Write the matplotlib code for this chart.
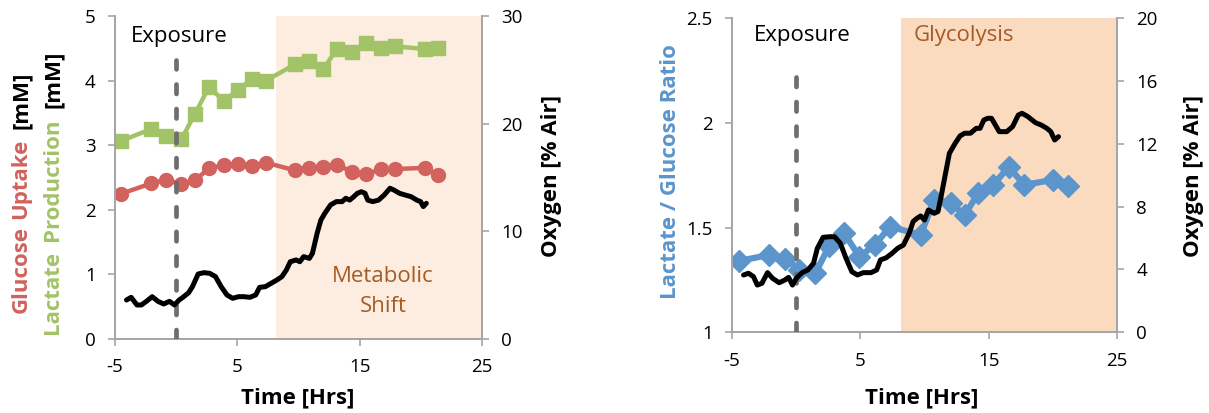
import matplotlib
matplotlib.use("Agg")
import matplotlib.pyplot as plt

# ---------------- data ----------------
time_left = [-4.47, -2.02, -0.83, 0.42, 1.55, 2.68, 3.87, 5.06, 6.19, 7.35,
             9.70, 10.83, 12.02, 13.15, 14.34, 15.53, 16.72, 17.88, 20.30, 21.43]
lactate = [3.07, 3.25, 3.14, 3.09, 3.49, 3.90, 3.69, 3.85, 4.03, 4.00,
           4.25, 4.30, 4.18, 4.49, 4.45, 4.58, 4.51, 4.53, 4.49, 4.51]
glucose = [2.25, 2.41, 2.46, 2.40, 2.46, 2.64, 2.69, 2.71, 2.68, 2.73,
           2.61, 2.64, 2.67, 2.70, 2.59, 2.55, 2.63, 2.63, 2.65, 2.54]

oxy_time_left = [-4.06, -3.68, -3.21, -2.84, -2.43, -1.96, -1.49, -1.02, -0.55, -0.14,
                 0.24, 0.55, 1.02, 1.33, 1.80, 2.27, 2.74, 3.21, 3.68, 4.15,
                 4.62, 5.09, 5.56, 6.03, 6.50, 6.82, 7.29, 7.76, 8.23, 8.64,
                 9.01, 9.33, 9.80, 10.11, 10.42, 10.89, 11.14, 11.52, 11.83, 12.15,
                 12.62, 13.09, 13.56, 13.87, 14.18, 14.50, 14.81, 15.13, 15.44, 15.66,
                 16.07, 16.54, 17.00, 17.48, 17.79, 18.26, 18.73, 19.20, 19.67, 19.98,
                 20.20, 20.45]
oxy_left = [3.62, 3.87, 3.16, 3.16, 3.50, 3.93, 3.50, 3.25, 3.50, 3.16,
            3.62, 3.87, 4.30, 4.86, 6.04, 6.16, 6.10, 5.80, 4.86, 4.09,
            3.78, 3.93, 3.93, 3.87, 4.09, 4.80, 4.86, 5.17, 5.48, 5.79,
            6.41, 7.18, 7.34, 7.18, 7.65, 7.49, 7.96, 9.81, 11.05, 11.67,
            12.45, 12.76, 12.76, 13.07, 12.90, 13.20, 13.53, 13.68, 13.53, 12.90,
            12.76, 12.90, 13.37, 14.00, 13.84, 13.53, 13.37, 13.22, 12.90, 12.76,
            12.30, 12.60]

time_right = [-4.46, -2.14, -0.88, 0.22, 1.50, 2.55, 3.74, 4.93, 6.12, 7.32,
              9.70, 10.75, 12.09, 13.13, 14.18, 15.37, 16.56, 17.76, 19.99, 21.19]
ratio = [1.341, 1.369, 1.349, 1.300, 1.282, 1.410, 1.473, 1.361, 1.417, 1.505,
         1.465, 1.632, 1.616, 1.560, 1.664, 1.704, 1.791, 1.704, 1.728, 1.699]

oxy_time_right = [-4.10, -3.72, -3.33, -3.03, -2.67, -2.23, -1.84, -1.33, -0.88, -0.59,
                  -0.29, 0.01, 0.46, 0.91, 1.35, 1.65, 2.10, 2.69, 2.99, 3.44,
                  3.89, 4.34, 4.78, 5.23, 5.83, 6.27, 6.57, 7.02, 7.47, 7.91,
                  8.36, 8.81, 9.11, 9.41, 9.70, 10.00, 10.30, 10.75, 11.05, 11.34,
                  11.64, 11.94, 12.39, 12.77, 13.13, 13.58, 14.03, 14.33, 14.62, 14.92,
                  15.22, 15.52, 15.82, 16.41, 16.86, 17.31, 17.60, 18.05, 18.65, 19.10,
                  19.54, 19.84, 20.14, 20.44]
oxy_right = [3.65, 3.76, 3.55, 3.01, 3.12, 3.80, 3.44, 3.16, 3.33, 3.50,
             3.01, 3.44, 3.80, 3.97, 4.39, 5.35, 6.05, 6.09, 6.09, 5.67,
             4.71, 3.86, 3.65, 3.80, 3.80, 3.97, 4.61, 4.75, 5.03, 5.35,
             5.56, 6.31, 7.05, 7.26, 7.41, 7.15, 7.79, 7.58, 7.69, 8.85,
             10.13, 11.40, 12.04, 12.51, 12.68, 12.68, 12.99, 12.99, 13.52, 13.63,
             13.63, 13.21, 12.78, 12.78, 13.10, 13.84, 13.95, 13.74, 13.35, 13.20,
             12.99, 12.78, 12.25, 12.46]

x_ticks = [-5, 5, 15, 25]
left_y_ticks = [0, 1, 2, 3, 4, 5]
left_oxy_ticks = [0, 10, 20, 30]
right_y_ticks = [1, 1.5, 2, 2.5]
right_y_labels = ["1", "1.5", "2", "2.5"]
right_oxy_ticks = [0, 4, 8, 12, 16, 20]

# ---------------- style ----------------
plt.rcParams['font.family'] = ['Open Sans', 'DejaVu Sans']
plt.rcParams['axes.unicode_minus'] = False
W, H = 1209, 413
GREEN = '#A2C367'
RED = '#D1625D'
BLUE = '#5B95CB'
BROWN = '#A65B24'
SPINE = '#A6A6A6'
SHADE_L = '#FDECE0'
SHADE_R = '#FBDBBF'
DASH = '#6E6E6E'
TICK_FS = 13.5
LABEL_FS = 16

fig = plt.figure(figsize=(W / 100, H / 100), dpi=100)


def px_rect(x0, y0, x1, y1):
    return [x0 / W, 1 - y1 / H, (x1 - x0) / W, (y1 - y0) / H]


def style(ax, ax2):
    for a in (ax, ax2):
        a.spines['top'].set_visible(False)
        for s in ('left', 'right', 'bottom'):
            a.spines[s].set_color(SPINE)
            a.spines[s].set_linewidth(1.3)
        a.tick_params(direction='out', length=5, width=1.2, color=SPINE,
                      labelsize=TICK_FS, pad=9)
    ax.tick_params(axis='x', pad=9)


def dashed(ax2, ytop):
    ax2.plot([0, 0], [0, ytop], color=DASH, lw=3.4, dashes=(2.0, 3.2),
             dash_capstyle='round', solid_capstyle='round', zorder=3)


# ---------------- left chart ----------------
ax = fig.add_axes(px_rect(115, 16, 482, 339))
ax.set_xlim(-5, 25)
ax.set_ylim(0, 5)
ax.set_xticks(x_ticks)
ax.set_yticks(left_y_ticks)
ax.axvspan(8.17, 25, color=SHADE_L, lw=0, zorder=0)
ax.plot(time_left, lactate, color=GREEN, lw=3.2, marker='s', ms=10, zorder=2)
ax.plot(time_left, glucose, color=RED, lw=3.2, marker='o', ms=10, zorder=2)
ax.text(0.23, 4.69, "Exposure", fontsize=16, ha='center', va='center', color='black')
ax.text(16.9, 0.975, "Metabolic", fontsize=16, ha='center', va='center', color=BROWN)
ax.text(16.9, 0.5, "Shift", fontsize=16, ha='center', va='center', color=BROWN)

ax2 = ax.twinx()
ax2.set_ylim(0, 30)
ax2.set_yticks(left_oxy_ticks)
dashed(ax2, 4.32 * 6)
ax2.plot(oxy_time_left, oxy_left, color='black', lw=3.6, zorder=4,
         solid_joinstyle='round', solid_capstyle='round')
style(ax, ax2)

# ---------------- right chart ----------------
bx = fig.add_axes(px_rect(732, 18.3, 1117, 332.3))
bx.set_xlim(-5, 25)
bx.set_ylim(1, 2.5)
bx.set_xticks(x_ticks)
bx.set_yticks(right_y_ticks)
bx.set_yticklabels(right_y_labels)
bx.axvspan(8.15, 25, color=SHADE_R, lw=0, zorder=0)
bx.plot(time_right, ratio, color=BLUE, lw=4.5, marker='D', ms=11, zorder=2)
bx.text(0.44, 2.416, "Exposure", fontsize=16, ha='center', va='center', color='black')
bx.text(13.05, 2.416, "Glycolysis", fontsize=16, ha='center', va='center', color=BROWN)

bx2 = bx.twinx()
bx2.set_ylim(0, 20)
bx2.set_yticks(right_oxy_ticks)
dashed(bx2, (2.25 - 1) / 1.5 * 20)
bx2.plot(oxy_time_right, oxy_right, color='black', lw=3.6, zorder=4,
         solid_joinstyle='round', solid_capstyle='round')
style(bx, bx2)

# ---------------- axis labels (pixel placed) ----------------


def ftext(x, y, s, **kw):
    fig.text(x / W, 1 - y / H, s, fontsize=LABEL_FS, fontweight='bold', **kw)


ftext(298, 398, "Time [Hrs]", ha='center', va='center')
ftext(922, 398, "Time [Hrs]", ha='center', va='center')
ftext(551, 176, "Oxygen [% Air]", rotation=90, ha='center', va='center')
ftext(1193, 176, "Oxygen [% Air]", rotation=90, ha='center', va='center')
ftext(670, 172, "Lactate / Glucose Ratio", rotation=90, ha='center', va='center', color=BLUE)

# left multi-colour label, two lines
ftext(21, 313, "Glucose", rotation=90, ha='center', va='bottom', color=RED)
ftext(21, 219, "Uptake", rotation=90, ha='center', va='bottom', color=RED)
ftext(21, 129, "[mM]", rotation=90, ha='center', va='bottom', color='black')
ftext(53, 334, "Lactate", rotation=90, ha='center', va='bottom', color=GREEN)
ftext(53, 241, "Production", rotation=90, ha='center', va='bottom', color=GREEN)
ftext(53, 108, "[mM]", rotation=90, ha='center', va='bottom', color='black')

fig.savefig("out.png", dpi=100)
